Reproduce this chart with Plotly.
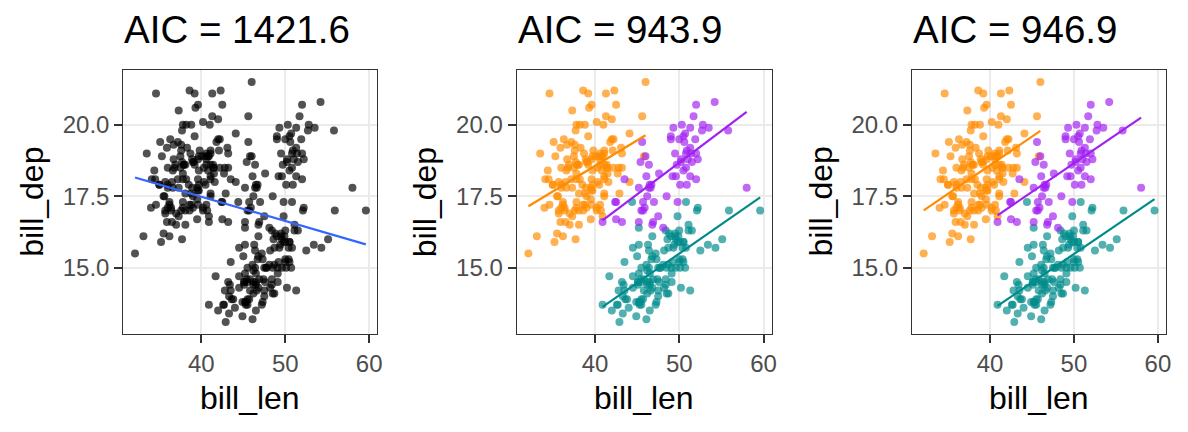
import numpy as np
import plotly.graph_objects as go

# ---------------- data (Palmer penguins: bill length / bill depth) ----------------
adelie_len = [39.1,39.5,40.3,36.7,39.3,38.9,39.2,34.1,42.0,37.8,37.8,41.1,38.6,34.6,36.6,38.7,42.5,34.4,46.0,
              37.8,37.7,35.9,38.2,38.8,35.3,40.6,40.5,37.9,40.5,39.5,37.2,39.5,40.9,36.4,39.2,38.8,42.2,37.6,39.8,
              36.5,40.8,36.0,44.1,37.0,39.6,41.1,37.5,36.0,42.3,39.6,40.1,35.0,42.0,34.5,41.4,39.0,40.6,36.5,37.6,
              35.7,41.3,37.6,41.1,36.4,41.6,35.5,41.1,35.9,41.8,33.5,39.7,39.6,45.8,35.5,42.8,40.9,37.2,36.2,42.1,
              34.6,42.9,36.7,35.1,37.3,41.3,36.3,36.9,38.3,38.9,35.7,41.1,34.0,39.6,36.2,40.8,38.1,40.3,33.1,43.2,
              35.0,41.0,37.7,37.8,37.9,39.7,38.6,38.2,38.1,43.2,38.1,45.6,39.7,42.2,39.6,42.7,38.6,37.3,35.7,41.1,
              36.2,37.7,40.2,41.4,35.2,40.6,38.8,41.5,39.0,44.1,38.5,43.1,36.8,37.5,38.1,41.1,35.6,40.2,37.0,39.7,
              40.2,40.6,32.1,40.7,37.3,39.0,39.2,36.6,36.0,37.8,36.0,41.5]
adelie_dep = [18.7,17.4,18.0,19.3,20.6,17.8,19.6,18.1,20.2,17.1,17.3,17.6,21.2,21.1,17.8,19.0,20.7,18.4,21.5,
              18.3,18.7,19.2,18.1,17.2,18.9,18.6,17.9,18.6,18.9,16.7,18.1,17.8,18.9,17.0,21.1,20.0,18.5,19.3,19.1,
              18.0,18.4,18.5,19.7,16.9,18.8,19.0,18.9,17.9,21.2,17.7,18.9,17.9,19.5,18.1,18.6,17.5,18.8,16.6,19.1,
              16.9,21.1,17.0,18.2,17.1,18.0,16.2,19.1,16.6,19.4,19.0,18.4,17.2,18.9,17.5,18.5,16.8,19.4,16.1,19.1,
              17.2,17.6,18.8,19.4,17.8,20.3,19.5,18.6,19.2,18.8,18.0,18.1,17.1,18.1,17.3,18.9,18.6,18.5,16.1,18.5,
              17.9,20.0,16.0,20.0,18.6,18.9,17.2,20.0,17.0,19.0,16.5,20.3,17.7,19.5,20.7,18.3,17.0,20.5,17.0,18.6,
              17.2,19.8,17.0,18.5,15.9,19.0,17.6,18.3,17.1,18.0,17.9,19.2,18.5,18.5,17.6,17.5,17.5,20.1,16.5,17.9,
              17.1,17.2,15.5,17.0,16.8,18.7,18.6,18.4,17.8,18.1,17.1,18.5]

gentoo_len = [46.1,50.0,48.7,50.0,47.6,46.5,45.4,46.7,43.3,46.8,40.9,49.0,45.5,48.4,45.8,49.3,42.0,49.2,46.2,
              48.7,50.2,45.1,46.5,46.3,42.9,46.1,44.5,47.8,48.2,50.0,47.3,42.8,45.1,59.6,49.1,48.4,42.6,44.4,44.0,
              48.7,42.7,49.6,45.3,49.6,50.5,43.6,45.5,50.5,44.9,45.2,46.6,48.5,45.1,50.1,46.5,45.0,43.8,45.5,43.2,
              50.4,45.3,46.2,45.7,54.3,45.8,49.8,46.2,49.5,43.5,50.7,47.7,46.4,48.2,46.5,46.4,48.6,47.5,51.1,45.2,
              45.2,49.1,52.5,47.4,50.0,44.9,50.8,43.4,51.3,47.5,52.1,47.5,52.2,45.5,49.5,44.5,50.8,49.4,46.9,48.4,
              51.1,48.5,55.9,47.2,49.1,47.3,46.8,41.7,53.4,43.3,48.1,50.5,49.8,43.5,51.5,46.2,55.1,44.5,48.8,47.2,
              46.8,50.4,45.2,49.9]
gentoo_dep = [13.2,16.3,14.1,15.2,14.5,13.5,14.6,15.3,13.4,15.4,13.7,16.1,13.7,14.6,14.6,15.7,13.5,15.2,14.5,
              15.1,14.3,14.5,14.5,15.8,13.1,15.1,14.3,15.0,14.3,15.3,15.3,14.2,14.5,17.0,14.8,16.3,13.7,17.3,13.6,
              15.7,13.7,16.0,13.7,15.0,15.9,13.9,13.9,15.9,13.3,15.8,14.2,14.1,14.4,15.0,14.4,15.4,13.9,15.0,14.5,
              15.3,13.8,14.9,13.9,15.7,14.2,16.8,14.4,16.2,14.2,15.0,15.0,15.6,15.6,14.8,15.0,16.0,14.2,16.3,13.8,
              16.4,14.5,15.6,14.6,15.9,13.8,17.3,14.4,14.2,14.0,17.0,15.0,17.1,14.5,16.1,14.7,15.7,15.8,14.6,14.4,
              16.5,15.0,17.0,15.5,15.0,13.8,16.1,14.7,15.8,14.0,15.1,15.2,15.9,15.2,16.3,14.1,16.0,15.7,16.2,13.7,
              14.3,15.7,14.8,16.1]

chinstrap_len = [46.5,50.0,51.3,45.4,52.7,45.2,46.1,51.3,46.0,51.3,46.6,51.7,47.0,52.0,45.9,50.5,50.3,58.0,
                 46.4,49.2,42.4,48.5,43.2,50.6,46.7,52.0,50.5,49.5,46.4,52.8,40.9,54.2,42.5,51.0,49.7,47.5,47.6,
                 52.0,46.9,53.5,49.0,46.2,50.9,45.5,50.9,50.8,50.1,49.0,51.5,49.8,48.1,51.4,45.7,50.7,42.5,52.2,
                 45.2,49.3,50.2,45.6,51.9,46.8,45.7,55.8,43.5,49.6,50.8,50.2]
chinstrap_dep = [17.9,19.5,19.2,18.7,19.8,17.8,18.2,18.2,18.9,19.9,17.8,20.3,17.3,18.1,17.1,19.6,20.0,17.8,
                 18.6,18.2,17.3,17.5,16.6,19.4,17.9,19.0,18.4,19.0,17.8,20.0,16.6,20.8,16.7,18.8,18.6,16.8,18.3,
                 20.7,16.6,19.9,19.5,17.5,19.1,17.0,17.9,18.5,17.9,19.6,18.7,17.3,16.4,19.0,17.3,19.7,17.3,18.8,
                 16.6,19.9,18.8,19.4,19.5,16.5,17.0,19.8,18.1,18.2,19.0,18.7]

titles = ["AIC = 1421.6", "AIC = 943.9", "AIC = 946.9"]
x_ticks = [40, 50, 60]
y_ticks = [15.0, 17.5, 20.0]
y_ticklabels = ["15.0", "17.5", "20.0"]

species = [("Adelie", adelie_len, adelie_dep, "#FF8C00"),
           ("Gentoo", gentoo_len, gentoo_dep, "#008B8B"),
           ("Chinstrap", chinstrap_len, chinstrap_dep, "#A020F0")]

# ---------------- layout geometry ----------------
W, H = 1188, 432
panels_px = [(124, 379), (519, 775), (916, 1171)]
top_px, bot_px = 70, 334
FONT = "Liberation Sans, Arial, Helvetica, sans-serif"

fig = go.Figure()

all_len = np.array(adelie_len + gentoo_len + chinstrap_len)
all_dep = np.array(adelie_dep + gentoo_dep + chinstrap_dep)
xr = [all_len.min() - 0.05 * np.ptp(all_len), all_len.max() + 0.05 * np.ptp(all_len)]
yr = [all_dep.min() - 0.05 * np.ptp(all_dep), all_dep.max() + 0.05 * np.ptp(all_dep)]

# parallel slopes model
Xp = []
for k, (nm, xl, yl, c) in enumerate(species):
    for xv in xl:
        row = [1.0, xv, 1.0 if k == 1 else 0.0, 1.0 if k == 2 else 0.0]
        Xp.append(row)
Xp = np.array(Xp)
beta, *_ = np.linalg.lstsq(Xp, all_dep, rcond=None)

for i in range(3):
    xa = "x" if i == 0 else f"x{i+1}"
    ya = "y" if i == 0 else f"y{i+1}"
    if i == 0:
        fig.add_trace(go.Scatter(x=all_len, y=all_dep, mode="markers", xaxis=xa, yaxis=ya,
                                 marker=dict(color="black", size=8, opacity=0.68, line=dict(width=0)),
                                 showlegend=False, hoverinfo="skip"))
        b1, b0 = np.polyfit(all_len, all_dep, 1)
        xs = np.linspace(all_len.min(), all_len.max(), 50)
        fig.add_trace(go.Scatter(x=xs, y=b0 + b1 * xs, mode="lines", xaxis=xa, yaxis=ya,
                                 line=dict(color="#3366FF", width=2.2), showlegend=False, hoverinfo="skip"))
    else:
        for nm, xl, yl, c in species:
            fig.add_trace(go.Scatter(x=xl, y=yl, mode="markers", xaxis=xa, yaxis=ya,
                                     marker=dict(color=c, size=8, opacity=0.68, line=dict(width=0)),
                                     showlegend=False, hoverinfo="skip"))
        for k, (nm, xl, yl, c) in enumerate(species):
            xarr = np.array(xl)
            xs = np.linspace(xarr.min(), xarr.max(), 50)
            if i == 1:
                b1, b0 = np.polyfit(xarr, np.array(yl), 1)
            else:
                b1 = beta[1]
                b0 = beta[0] + (beta[2] if k == 1 else 0) + (beta[3] if k == 2 else 0)
            fig.add_trace(go.Scatter(x=xs, y=b0 + b1 * xs, mode="lines", xaxis=xa, yaxis=ya,
                                     line=dict(color=c, width=2.2), showlegend=False, hoverinfo="skip"))

axis_common = dict(showline=True, mirror=True, linecolor="#333333", linewidth=1.4,
                   showgrid=True, gridcolor="#EBEBEB", gridwidth=2.4, zeroline=False,
                   ticks="outside", ticklen=8, tickwidth=2, tickcolor="#333333",
                   tickfont=dict(family=FONT, size=24, color="#4D4D4D"))

layout = dict(width=W, height=H, margin=dict(l=0, r=0, t=0, b=0),
              paper_bgcolor="white", plot_bgcolor="white", showlegend=False)
annotations = []
for i, (l, r) in enumerate(panels_px):
    sfx = "" if i == 0 else str(i + 1)
    layout[f"xaxis{sfx}"] = dict(domain=[l / W, r / W], range=xr, tickvals=x_ticks,
                                 anchor=f"y{sfx}", **axis_common)
    layout[f"yaxis{sfx}"] = dict(domain=[1 - bot_px / H, 1 - top_px / H], range=yr,
                                 tickvals=y_ticks, ticktext=y_ticklabels,
                                 anchor=f"x{sfx}", **axis_common)
    annotations.append(dict(text=titles[i], x=(l - 1) / W, y=1 - 30 / H, xref="paper", yref="paper",
                            xanchor="left", yanchor="middle", showarrow=False,
                            font=dict(family=FONT, size=38.5, color="black")))
    annotations.append(dict(text="bill_len", x=(l + r) / 2 / W, y=1 - 398 / H, xref="paper", yref="paper",
                            xanchor="center", yanchor="middle", showarrow=False,
                            font=dict(family=FONT, size=32, color="black")))
    annotations.append(dict(text="bill_dep", x=(l - 92) / W, y=1 - 202 / H, xref="paper", yref="paper",
                            xanchor="center", yanchor="middle", showarrow=False, textangle=-90,
                            font=dict(family=FONT, size=32, color="black")))
layout["annotations"] = annotations
fig.update_layout(**layout)

fig.write_html("out.html")
